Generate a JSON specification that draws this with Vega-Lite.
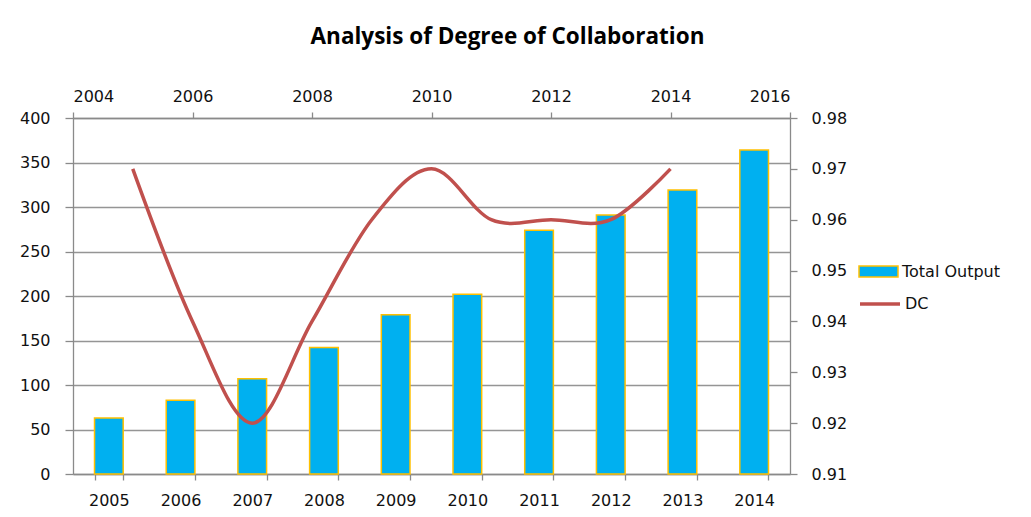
{
  "$schema": "https://vega.github.io/schema/vega-lite/v6.json",
  "width": 717,
  "height": 356,
  "autosize": {"type": "none"},
  "padding": {"left": 73, "top": 118, "right": 241, "bottom": 43},
  "background": "white",
  "title": {
    "text": "Analysis of Degree of Collaboration",
    "font": "Open Sans",
    "fontSize": 22.5,
    "fontWeight": "bold",
    "color": "#000000",
    "anchor": "middle",
    "dx": 76,
    "offset": 40
  },
  "config": {
    "view": {"stroke": null},
    "axis": {
      "labelFont": "DejaVu Sans",
      "labelFontSize": 16,
      "labelColor": "#111111",
      "domainColor": "#8a8a8a",
      "tickColor": "#8a8a8a",
      "domainWidth": 1.3,
      "tickWidth": 1.3
    },
    "legend": {
      "labelFont": "DejaVu Sans",
      "labelFontSize": 16,
      "labelColor": "#111111"
    }
  },
  "layer": [
    {
      "data": {
        "values": [
          {"year": "2005", "output": 63, "series": "Total Output"},
          {"year": "2006", "output": 83, "series": "Total Output"},
          {"year": "2007", "output": 107, "series": "Total Output"},
          {"year": "2008", "output": 142, "series": "Total Output"},
          {"year": "2009", "output": 179, "series": "Total Output"},
          {"year": "2010", "output": 202, "series": "Total Output"},
          {"year": "2011", "output": 274, "series": "Total Output"},
          {"year": "2012", "output": 291, "series": "Total Output"},
          {"year": "2013", "output": 319, "series": "Total Output"},
          {"year": "2014", "output": 364, "series": "Total Output"}
        ]
      },
      "mark": {"type": "bar", "stroke": "#FFC000", "strokeWidth": 1.5},
      "encoding": {
        "x": {
          "field": "year",
          "type": "ordinal",
          "scale": {"paddingInner": 0.6, "paddingOuter": 0.3},
          "axis": {
            "title": null,
            "labelAngle": 0,
            "tickBand": "extent",
            "tickSize": 6,
            "labelPadding": 12,
            "grid": false
          }
        },
        "y": {
          "field": "output",
          "type": "quantitative",
          "scale": {"domain": [0, 400], "nice": false},
          "axis": {
            "title": null,
            "values": [0, 50, 100, 150, 200, 250, 300, 350, 400],
            "tickSize": 8,
            "labelPadding": 15,
            "grid": true,
            "gridColor": "#959595",
            "gridWidth": 1.3
          }
        },
        "color": {
          "field": "series",
          "type": "nominal",
          "scale": {"range": ["#00B0F0"]},
          "legend": {
            "orient": "none",
            "legendX": 785,
            "legendY": 133,
            "title": null,
            "symbolType": "M-1,-0.28H1V0.28H-1Z",
            "symbolSize": 1521,
            "symbolStrokeColor": "#FFC000",
            "symbolStrokeWidth": 1.5,
            "symbolOpacity": 1,
            "labelOffset": 3
          }
        }
      }
    },
    {
      "data": {
        "values": [
          {"year": 2005, "dc": 0.97, "series": "DC"},
          {"year": 2006, "dc": 0.94, "series": "DC"},
          {"year": 2007, "dc": 0.92, "series": "DC"},
          {"year": 2008, "dc": 0.94, "series": "DC"},
          {"year": 2009, "dc": 0.96, "series": "DC"},
          {"year": 2010, "dc": 0.97, "series": "DC"},
          {"year": 2011, "dc": 0.96, "series": "DC"},
          {"year": 2012, "dc": 0.96, "series": "DC"},
          {"year": 2013, "dc": 0.96, "series": "DC"},
          {"year": 2014, "dc": 0.97, "series": "DC"}
        ]
      },
      "mark": {"type": "line", "interpolate": "cardinal", "strokeWidth": 3.5},
      "encoding": {
        "x": {
          "field": "year",
          "type": "quantitative",
          "scale": {"domain": [2004, 2016], "nice": false, "zero": false},
          "axis": {
            "orient": "top",
            "title": null,
            "values": [2004, 2006, 2008, 2010, 2012, 2014, 2016],
            "format": "d",
            "tickSize": 6,
            "labelPadding": 8,
            "grid": false
          }
        },
        "y": {
          "field": "dc",
          "type": "quantitative",
          "scale": {"domain": [0.91, 0.98], "nice": false, "zero": false},
          "axis": {
            "orient": "right",
            "title": null,
            "values": [0.91, 0.92, 0.93, 0.94, 0.95, 0.96, 0.97, 0.98],
            "format": ".2f",
            "tickSize": 7,
            "labelPadding": 14,
            "grid": false
          }
        },
        "stroke": {
          "field": "series",
          "type": "nominal",
          "scale": {"range": ["#C0504D"]},
          "legend": {
            "orient": "none",
            "legendX": 785,
            "legendY": 164,
            "title": null,
            "symbolType": "stroke",
            "symbolSize": 1600,
            "symbolStrokeWidth": 3.5,
            "labelOffset": 3
          }
        }
      }
    }
  ],
  "resolve": {
    "scale": {"x": "independent", "y": "independent"},
    "axis": {"x": "independent", "y": "independent"}
  }
}
